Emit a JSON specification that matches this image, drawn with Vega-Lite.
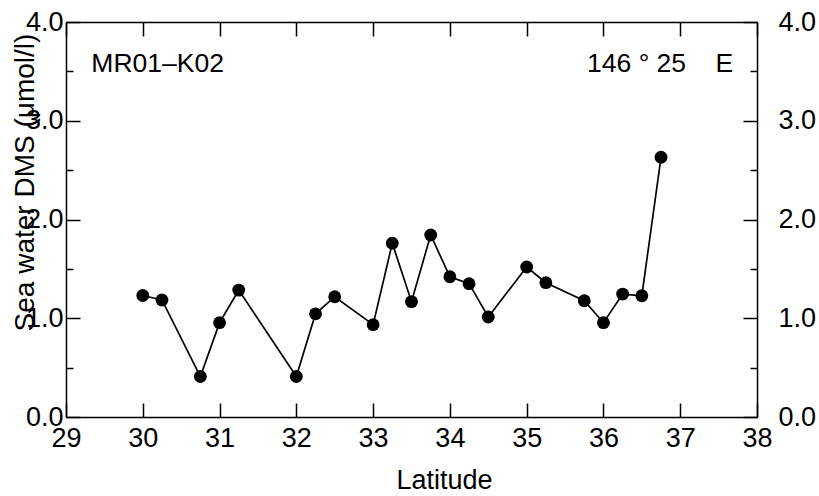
{
  "$schema": "https://vega.github.io/schema/vega-lite/v6.json",
  "width": 691,
  "height": 395,
  "autosize": "none",
  "padding": {"left": 66, "top": 22, "right": 62, "bottom": 79},
  "background": "white",
  "config": {
    "view": {"stroke": null},
    "font": "Liberation Sans",
    "axis": {
      "domainColor": "black", "domainWidth": 1.5, "tickColor": "black", "tickWidth": 1.5,
      "labelColor": "black", "labelFont": "Liberation Sans", "labelFontSize": 27,
      "titleColor": "black", "titleFont": "Liberation Sans", "titleFontSize": 27, "titleFontWeight": "normal",
      "grid": false, "labelFlush": false, "labelOverlap": false
    }
  },
  "datasets": {
    "dms": [
      {"lat": 30.0, "dms": 1.23},
      {"lat": 30.25, "dms": 1.185},
      {"lat": 30.75, "dms": 0.41},
      {"lat": 31.0, "dms": 0.955},
      {"lat": 31.25, "dms": 1.285},
      {"lat": 32.0, "dms": 0.41},
      {"lat": 32.25, "dms": 1.045},
      {"lat": 32.5, "dms": 1.218},
      {"lat": 33.0, "dms": 0.935},
      {"lat": 33.25, "dms": 1.76},
      {"lat": 33.5, "dms": 1.168},
      {"lat": 33.75, "dms": 1.843},
      {"lat": 34.0, "dms": 1.42},
      {"lat": 34.25, "dms": 1.35},
      {"lat": 34.5, "dms": 1.013},
      {"lat": 35.0, "dms": 1.519},
      {"lat": 35.25, "dms": 1.36},
      {"lat": 35.75, "dms": 1.178},
      {"lat": 36.0, "dms": 0.955},
      {"lat": 36.25, "dms": 1.245},
      {"lat": 36.5, "dms": 1.228},
      {"lat": 36.75, "dms": 2.63}
    ]
  },
  "resolve": {"axis": {"x": "independent", "y": "independent"}},
  "layer": [
    {
      "data": {"name": "dms"},
      "mark": {"type": "line", "color": "black", "strokeWidth": 1.7},
      "encoding": {
        "x": {"field": "lat", "type": "quantitative", "scale": {"domain": [29, 38], "nice": false, "zero": false},
          "axis": {"orient": "bottom", "values": [29,30,31,32,33,34,35,36,37,38], "format": "d", "tickSize": -14,
            "labelPadding": 22, "title": "Latitude", "titleX": 378, "titleY": 71, "titleBaseline": "alphabetic", "titleAlign": "center"}},
        "y": {"field": "dms", "type": "quantitative", "scale": {"domain": [0, 4], "nice": false},
          "axis": {"orient": "left", "values": [0,1,2,3,4], "format": ".1f", "tickSize": -14, "labelPadding": 17,
            "title": "Sea water DMS (μmol/l)", "titleFontSize": 28, "titleAngle": -90, "titleX": -33, "titleY": 160, "titleAlign": "center", "titleBaseline": "alphabetic"}}
      }
    },
    {
      "data": {"name": "dms"},
      "mark": {"type": "circle", "color": "black", "opacity": 1, "size": 165},
      "encoding": {
        "x": {"field": "lat", "type": "quantitative",
          "axis": {"orient": "top", "values": [29,30,31,32,33,34,35,36,37,38], "tickSize": -14, "labels": false, "title": null}},
        "y": {"field": "dms", "type": "quantitative",
          "axis": {"orient": "right", "values": [0,1,2,3,4], "format": ".1f", "tickSize": -14, "labelPadding": 35, "title": null}}
      }
    },
    {
      "data": {"name": "dms"},
      "mark": {"type": "circle", "opacity": 0},
      "encoding": {
        "x": {"field": "lat", "type": "quantitative", "axis": null},
        "y": {"field": "dms", "type": "quantitative",
          "axis": {"orient": "left", "values": [0.5,1.5,2.5,3.5], "tickSize": -7, "labels": false, "domain": false, "title": null}}
      }
    },
    {
      "data": {"name": "dms"},
      "mark": {"type": "circle", "opacity": 0},
      "encoding": {
        "x": {"field": "lat", "type": "quantitative", "axis": null},
        "y": {"field": "dms", "type": "quantitative",
          "axis": {"orient": "right", "values": [0.5,1.5,2.5,3.5], "tickSize": -7, "labels": false, "domain": false, "title": null}}
      }
    },
    {
      "data": {"values": [{"lat": 29.33, "dms": 3.49, "label": "MR01–K02"}]},
      "mark": {"type": "text", "align": "left", "baseline": "alphabetic", "fontSize": 26.5, "font": "Liberation Sans", "color": "black"},
      "encoding": {
        "x": {"field": "lat", "type": "quantitative", "axis": null},
        "y": {"field": "dms", "type": "quantitative", "axis": null},
        "text": {"field": "label"}
      }
    },
    {
      "data": {"values": [{"lat": 37.69, "dms": 3.49, "label": "146 ° 25\u00a0\u00a0\u00a0\u00a0E"}]},
      "mark": {"type": "text", "align": "right", "baseline": "alphabetic", "fontSize": 26.5, "font": "Liberation Sans", "color": "black"},
      "encoding": {
        "x": {"field": "lat", "type": "quantitative", "axis": null},
        "y": {"field": "dms", "type": "quantitative", "axis": null},
        "text": {"field": "label"}
      }
    }
  ]
}
